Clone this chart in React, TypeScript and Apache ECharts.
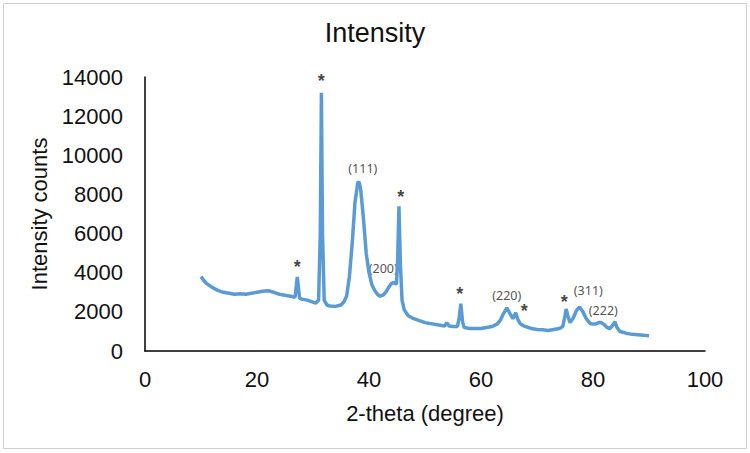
import React, { useEffect, useRef } from "react";
import * as echarts from "echarts";

const titleText = "Intensity";
const xAxisName = "2-theta (degree)";
const yAxisName = "Intensity counts";

// 2-theta (degree)
const twoTheta = [
  10, 10.5, 11, 12, 13, 14, 15, 16, 17, 18, 19, 20, 21, 22, 23, 24, 25, 26, 26.8, 27.2, 27.6,
  28, 29, 30, 30.5, 31, 31.3, 31.5, 31.7, 32, 32.5, 33, 34, 35, 35.5, 36, 36.5, 37, 37.5, 38,
  38.2, 38.5, 39, 39.5, 40, 40.5, 41, 41.5, 42, 42.5, 43, 43.5, 44, 44.5, 44.9, 45.1, 45.35,
  45.6, 45.9, 46.3, 47, 48, 49, 50, 51, 52, 53, 53.5, 53.9, 54.3, 55, 55.8, 56.1, 56.4, 56.7,
  57, 58, 59, 60, 61, 62, 63, 63.5, 64, 64.6, 65.2, 65.7, 66.2, 66.6, 67, 67.5, 68, 69, 70,
  71, 72, 73, 74, 74.6, 75.0, 75.2, 75.5, 75.9, 76.5, 77, 77.6, 78.2, 78.8, 79.5, 80, 80.5,
  81, 81.5, 82, 82.5, 83, 83.5, 83.9, 84.3, 84.8, 85.5, 86, 87, 88, 89, 90,
];

// Intensity counts
const intensity = [
  3800, 3600, 3450, 3250, 3100, 3000, 2950, 2900, 2920, 2900, 2950, 3000, 3050, 3080, 3000, 2900,
  2850, 2800, 2750, 3780, 2700, 2650, 2600, 2500, 2450, 2600, 6000, 13200, 6000, 2600, 2350,
  2300, 2280, 2350, 2500, 2800, 3800, 5500, 7600, 8600, 8650, 8300, 6800, 5000, 4000, 3400,
  3100, 2900, 2800, 2850, 3000, 3250, 3450, 3500, 3400, 4500, 7400, 4500, 2600, 2100, 1800,
  1650, 1550, 1450, 1400, 1350, 1300, 1280, 1450, 1280, 1250, 1250, 1700, 2420, 1500, 1200,
  1150, 1150, 1150, 1200, 1250, 1400, 1600, 1900, 2200, 1900, 1650, 1950, 1600, 1400, 1300,
  1250, 1150, 1100, 1080, 1050, 1100, 1150, 1250, 1800, 2150, 1800, 1450, 1700, 2050, 2250,
  2000, 1650, 1400, 1380, 1380, 1450, 1450, 1350, 1200, 1150, 1300, 1500, 1200, 1000, 950,
  900, 850, 830, 800, 780,
];

// peak markers: [2-theta, intensity anchor, text]
const starMarks: [number, number, string][] = [
  [27.2, 4277, "*"],
  [31.48, 13811, "*"],
  [45.66, 7853, "*"],
  [56.2, 2912, "*"],
  [67.73, 2059, "*"],
  [74.86, 2519, "*"],
];

const hklMarks: [number, number, string][] = [
  [38.9, 9335, "(111)"],
  [42.55, 4190, "(200)"],
  [64.6, 2861, "(220)"],
  [79.16, 3066, "(311)"],
  [81.84, 2059, "(222)"],
];

const FONT = "'Liberation Sans', Arial, sans-serif";

export default function App() {
  const ref = useRef<HTMLDivElement>(null);

  useEffect(() => {
    document.body.style.margin = "0";
    if (!ref.current) return;
    const chart = echarts.init(ref.current, undefined, { renderer: "svg" });
    const lineData = twoTheta.map((x, i) => [x, intensity[i]]);
    chart.setOption({
      animation: false,
      backgroundColor: "#ffffff",
      title: {
        text: titleText,
        left: "center",
        top: 19,
        padding: 0,
        textStyle: { fontFamily: FONT, fontSize: 27, fontWeight: "normal", color: "#111" },
      },
      graphic: [
        {
          type: "rect",
          shape: { x: 3.5, y: 3.5, width: 743, height: 445 },
          style: { fill: "none", stroke: "#cfcfcf", lineWidth: 1 },
          silent: true,
        },
      ],
      grid: { left: 145, right: 45, top: 77, bottom: 102, containLabel: false },
      xAxis: {
        type: "value",
        min: 0,
        max: 100,
        interval: 20,
        name: xAxisName,
        nameLocation: "middle",
        nameGap: 51,
        nameTextStyle: { fontFamily: FONT, fontSize: 22, color: "#111" },
        axisLine: { show: true, onZero: false, lineStyle: { color: "#000", width: 1.5 } },
        axisTick: { show: false },
        splitLine: { show: false },
        axisLabel: { fontFamily: FONT, fontSize: 22, color: "#111", margin: 17 },
      },
      yAxis: {
        type: "value",
        min: 0,
        max: 14000,
        interval: 2000,
        name: yAxisName,
        nameLocation: "middle",
        nameGap: 83,
        nameTextStyle: { fontFamily: FONT, fontSize: 22, color: "#111" },
        axisLine: { show: true, lineStyle: { color: "#000", width: 1.5 } },
        axisTick: { show: false },
        splitLine: { show: false },
        axisLabel: {
          fontFamily: FONT,
          fontSize: 22,
          color: "#111",
          margin: 22,
          formatter: (v: number) => String(v),
        },
      },
      series: [
        {
          type: "line",
          data: lineData,
          showSymbol: false,
          smooth: false,
          lineStyle: { color: "#5B9BD5", width: 3.5 },
          itemStyle: { color: "#5B9BD5" },
        },
        {
          type: "scatter",
          data: starMarks,
          symbolSize: 0,
          silent: true,
          label: {
            show: true,
            position: "inside",
            formatter: (p: any) => p.data[2],
            fontFamily: FONT,
            fontSize: 18,
            fontWeight: "bold",
            color: "#111",
          },
        },
        {
          type: "scatter",
          data: hklMarks,
          symbolSize: 0,
          silent: true,
          label: {
            show: true,
            position: "inside",
            formatter: (p: any) => p.data[2],
            fontFamily: "'Noto Sans', sans-serif",
            fontSize: 12.5,
            color: "#222",
          },
        },
      ],
    });
    return () => chart.dispose();
  }, []);

  return <div ref={ref} style={{ width: 750, height: 453 }} />;
}
